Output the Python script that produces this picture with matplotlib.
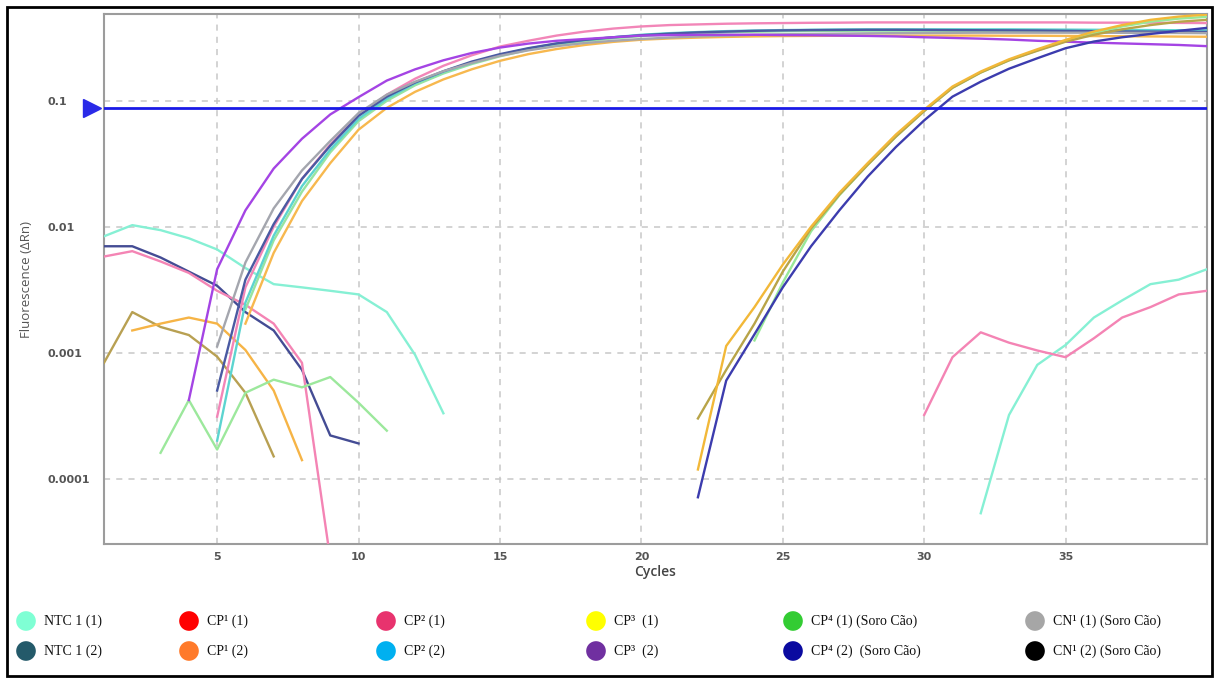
import numpy as np
import matplotlib.pyplot as plt
from matplotlib.transforms import blended_transform_factory
from matplotlib.patches import Rectangle

# ---------------- data ----------------
cycles = np.arange(1, 41)
threshold = 0.0885

x_ticks = [5, 10, 15, 20, 25, 30, 35]
y_ticks = [1e-4, 1e-3, 1e-2, 1e-1]
y_tick_labels = ["0.0001", "0.001", "0.01", "0.1"]

# baseline (noise) traces: (first cycle, values)
ntc1_a_early = (1, [0.0084, 0.0103, 0.0094, 0.0081, 0.0066, 0.0047, 0.0035, 0.0033,
                    0.0031, 0.0029, 0.0021, 0.00096, 0.00033])
ntc1_a_late = (32, [5.3e-5, 0.00032, 0.0008, 0.00115, 0.0019, 0.0026, 0.0035, 0.0038, 0.0046])
ntc1_b_early = (1, [0.0070, 0.0070, 0.0057, 0.0044, 0.0034, 0.0021, 0.0015, 0.00073,
                    0.00022, 0.00019])
pink_noise_early = (1, [0.0058, 0.0064, 0.0053, 0.0043, 0.0031, 0.0024, 0.0017, 0.00083, 2.3e-5])
pink_noise_late = (30, [0.00032, 0.00092, 0.00145, 0.0012, 0.00104, 0.00092, 0.0013,
                        0.0019, 0.0023, 0.0029, 0.0031])
olive_noise = (1, [0.00083, 0.0021, 0.0016, 0.00138, 0.00093, 0.00048, 0.00015])
orange_noise = (2, [0.0015, 0.0017, 0.0019, 0.0017, 0.00105, 0.0005, 0.00014])
green_noise = (3, [0.00016, 0.00042, 0.00017, 0.00048, 0.00061, 0.00053, 0.00064,
                   0.0004, 0.00024])

# early amplification curves
purple_amp = (4, [0.00042, 0.0046, 0.0135, 0.029, 0.050, 0.078, 0.107, 0.145, 0.178, 0.21,
                  0.24, 0.265, 0.285, 0.30, 0.31, 0.32, 0.33, 0.333, 0.335, 0.335, 0.335,
                  0.333, 0.332, 0.33, 0.328, 0.325, 0.32, 0.316, 0.312, 0.307, 0.30, 0.295,
                  0.29, 0.286, 0.282, 0.278, 0.272])
gray_amp = (5, [0.00112, 0.0052, 0.0140, 0.028, 0.048, 0.080, 0.112, 0.142, 0.172, 0.20,
                0.228, 0.252, 0.272, 0.288, 0.30, 0.31, 0.318, 0.325, 0.33, 0.335, 0.338,
                0.34, 0.342, 0.344, 0.345, 0.346, 0.347, 0.348, 0.348, 0.348, 0.348, 0.348,
                0.347, 0.347, 0.346, 0.345])
pink_amp = (5, [0.00031, 0.0033, 0.0100, 0.024, 0.045, 0.077, 0.112, 0.150, 0.19, 0.23,
                0.27, 0.30, 0.33, 0.355, 0.375, 0.39, 0.40, 0.405, 0.41, 0.413, 0.415,
                0.417, 0.418, 0.42, 0.42, 0.42, 0.42, 0.42, 0.42, 0.42, 0.42, 0.418, 0.418,
                0.418, 0.416, 0.415])
teal_amp = (5, [0.0002, 0.0025, 0.0085, 0.021, 0.041, 0.072, 0.104, 0.138, 0.17, 0.20,
                0.232, 0.26, 0.285, 0.305, 0.32, 0.335, 0.345, 0.352, 0.358, 0.362, 0.365,
                0.367, 0.369, 0.37, 0.37, 0.37, 0.37, 0.37, 0.37, 0.369, 0.368, 0.367,
                0.366, 0.365, 0.364, 0.363])
navy_amp = (5, [0.0005, 0.0038, 0.0105, 0.024, 0.044, 0.076, 0.108, 0.14, 0.172, 0.205,
                0.235, 0.262, 0.286, 0.305, 0.32, 0.332, 0.342, 0.35, 0.355, 0.36, 0.363,
                0.365, 0.366, 0.367, 0.367, 0.366, 0.365, 0.364, 0.363, 0.362, 0.36, 0.358,
                0.356, 0.355, 0.354, 0.353])
green_amp = (6, [0.0022, 0.0078, 0.019, 0.039, 0.069, 0.10, 0.133, 0.165, 0.196, 0.226,
                 0.254, 0.278, 0.298, 0.314, 0.327, 0.337, 0.344, 0.35, 0.354, 0.357,
                 0.359, 0.36, 0.361, 0.361, 0.361, 0.36, 0.36, 0.359, 0.358, 0.357, 0.356,
                 0.355, 0.354, 0.353, 0.352])
orange_amp = (6, [0.0017, 0.0062, 0.016, 0.032, 0.059, 0.088, 0.118, 0.148, 0.178, 0.208,
                  0.235, 0.258, 0.278, 0.294, 0.306, 0.313, 0.318, 0.322, 0.325, 0.327,
                  0.328, 0.329, 0.33, 0.33, 0.33, 0.33, 0.33, 0.329, 0.329, 0.328, 0.327,
                  0.326, 0.325, 0.324, 0.323])

# late amplification curves (serum samples)
gold_amp = (22, [0.000118, 0.00113, 0.0023, 0.0050, 0.0100, 0.0186, 0.032, 0.054, 0.085,
                 0.13, 0.171, 0.214, 0.257, 0.305, 0.355, 0.40, 0.44, 0.467, 0.485])
olive_amp = (22, [0.0003, 0.00073, 0.0017, 0.0044, 0.0097, 0.018, 0.031, 0.052, 0.083,
                  0.127, 0.168, 0.21, 0.25, 0.295, 0.335, 0.37, 0.40, 0.425, 0.44])
green_late = (24, [0.00125, 0.0036, 0.0092, 0.0178, 0.031, 0.052, 0.083, 0.127, 0.168,
                   0.21, 0.252, 0.298, 0.345, 0.39, 0.425, 0.45, 0.465])
navy_late = (22, [7.1e-5, 0.0006, 0.0014, 0.0033, 0.007, 0.0135, 0.025, 0.043, 0.07,
                  0.108, 0.142, 0.18, 0.218, 0.262, 0.296, 0.32, 0.34, 0.36, 0.38])

traces = [
    (ntc1_a_early, "#86f0d4"), (ntc1_a_late, "#86f0d4"),
    (ntc1_b_early, "#444c94"),
    (pink_noise_early, "#f484b4"), (pink_noise_late, "#f484b4"),
    (olive_noise, "#b8a052"), (orange_noise, "#f6b446"), (green_noise, "#9ce89c"),
    (orange_amp, "#f7b84e"), (green_amp, "#98e4a0"), (teal_amp, "#5cd4d0"),
    (pink_amp, "#f286b8"), (navy_amp, "#4a5aa2"), (gray_amp, "#a4a6ae"),
    (purple_amp, "#a444e4"),
    (green_late, "#98e898"), (olive_amp, "#b8a448"), (gold_amp, "#f2b838"),
    (navy_late, "#3c3cae"),
]

legend_labels = [
    ["NTC 1 (1)", "CP\u00b9 (1)", "CP\u00b2 (1)", "CP\u00b3  (1)", "CP\u2074 (1) (Soro Cão)", "CN\u00b9 (1) (Soro Cão)"],
    ["NTC 1 (2)", "CP\u00b9 (2)", "CP\u00b2 (2)", "CP\u00b3  (2)", "CP\u2074 (2)  (Soro Cão)", "CN\u00b9 (2) (Soro Cão)"],
]
legend_colors = [
    ["#7fffd4", "#ff0000", "#e8336e", "#ffff00", "#33cc33", "#a6a6a6"],
    ["#245a6a", "#ff7a2a", "#00b0f0", "#7030a0", "#0a0aa0", "#000000"],
]

# ---------------- figure ----------------
W, H = 1216, 683
fig = plt.figure(figsize=(W / 100, H / 100), dpi=100)
fig.patch.set_facecolor("white")

ax_l, ax_r, ax_t, ax_b = 104, 1207, 14, 544
ax = fig.add_axes([ax_l / W, 1 - ax_b / H, (ax_r - ax_l) / W, (ax_b - ax_t) / H])

for (start, vals), col in traces:
    xs = np.arange(start, start + len(vals))
    ax.plot(xs, vals, color=col, lw=1.7, solid_joinstyle="round", zorder=3)

ax.set_yscale("log")
ax.set_xlim(1, 40)
ax.set_ylim(10 ** -4.52, 10 ** -0.31)

ax.axhline(threshold, color="#1a1ae6", lw=2.0, zorder=4)
trans = blended_transform_factory(ax.transAxes, ax.transData)
ax.plot([-0.011], [threshold], marker=">", ms=13, color="#2a2ae8",
        transform=trans, clip_on=False, zorder=5)

ax.set_xticks(x_ticks)
ax.set_xticklabels([str(t) for t in x_ticks])
ax.set_yticks(y_ticks)
ax.set_yticklabels(y_tick_labels)
ax.minorticks_off()
ax.yaxis.set_minor_locator(plt.NullLocator())
ax.tick_params(axis="both", length=0)
ax.tick_params(axis="y", pad=41)
ax.tick_params(axis="x", pad=6)
for lab in ax.get_yticklabels():
    lab.set_horizontalalignment("left")
    lab.set_fontsize(8)
    lab.set_fontweight("bold")
    lab.set_color("#555555")
for lab in ax.get_xticklabels():
    lab.set_fontsize(8)
    lab.set_fontweight("bold")
    lab.set_color("#555555")

ax.grid(True, which="major", ls=(0, (4, 4)), color="#c8c8c8", lw=1.1)
ax.set_axisbelow(True)
for sp in ax.spines.values():
    sp.set_color("#9c9c9c")
    sp.set_linewidth(1.5)

ax.set_xlabel("Cycles", fontsize=10, color="#444444", labelpad=2, family="Open Sans",
              fontweight="semibold")
ax.set_ylabel("Fluorescence (\u0394Rn)", fontsize=9.5, color="#555555", family="Open Sans")
ax.yaxis.set_label_coords((33 - ax_l) / (ax_r - ax_l), 0.5)

# ---------------- legend & frame ----------------
ov = fig.add_axes([0, 0, 1, 1], zorder=10)
ov.set_xlim(0, W)
ov.set_ylim(H, 0)
ov.axis("off")
ov.patch.set_alpha(0)

marker_x = [26, 189, 386, 596, 793, 1035]
row_y = [621, 651]
for r in range(2):
    for c in range(6):
        ov.scatter(marker_x[c], row_y[r], s=200, color=legend_colors[r][c], edgecolors="none")
        ov.text(marker_x[c] + 18, row_y[r], legend_labels[r][c], fontsize=10,
                family=["Liberation Serif", "DejaVu Serif"], va="center", ha="left",
                color="#111111")

ov.add_patch(Rectangle((7, 7), 1205, 669, fill=False, lw=2, edgecolor="black"))

fig.savefig("out.png", dpi=100, facecolor="white")
